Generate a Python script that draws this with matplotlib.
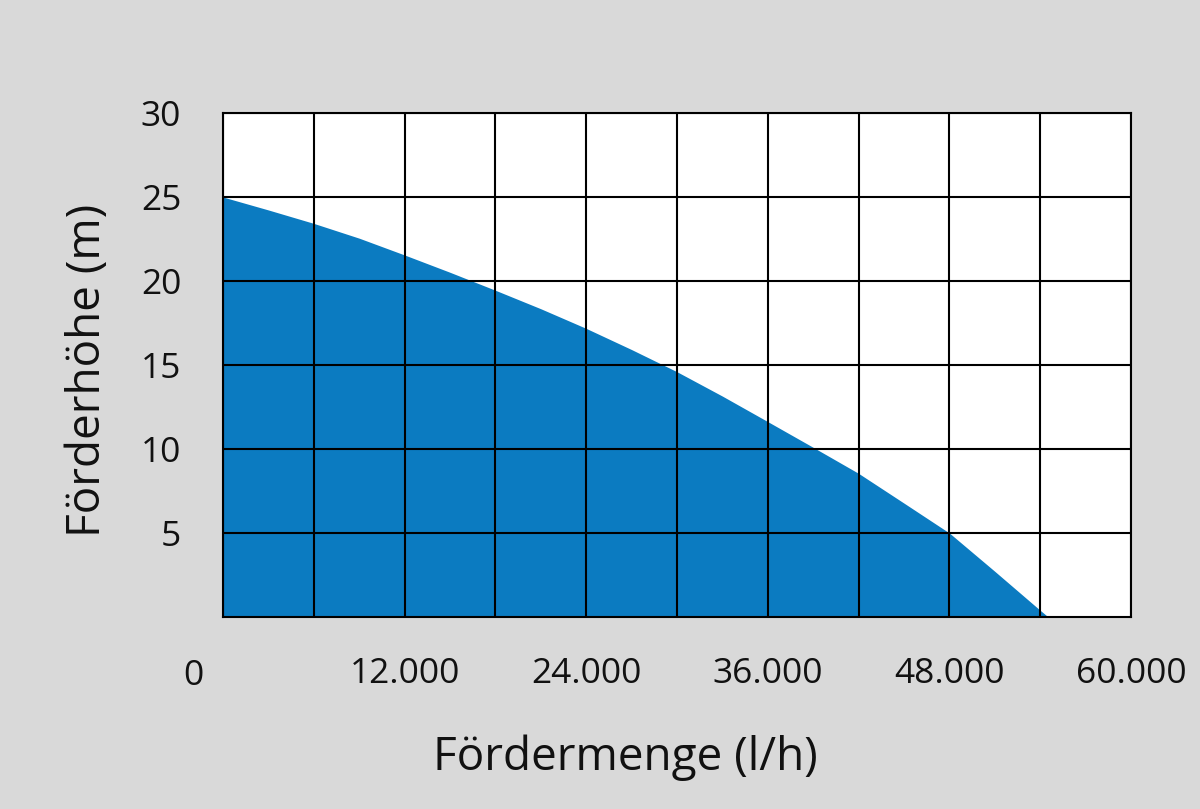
import matplotlib.pyplot as plt
from matplotlib.transforms import blended_transform_factory

# Kennlinie (Fördermenge in l/h, Förderhöhe in m)
flow = [0, 3000, 6000, 9000, 12000, 15000, 18000, 21000, 24000, 27000, 30000,
        33000, 36000, 39000, 42000, 45000, 48000, 51000, 54000, 54530]
head = [25, 24.23, 23.43, 22.55, 21.55, 20.52, 19.45, 18.35, 17.18, 15.92, 14.6,
        13.15, 11.63, 10.1, 8.55, 6.78, 5.0, 2.72, 0.4, 0]

x_ticks = [12000, 24000, 36000, 48000, 60000]
x_labels = ['12.000', '24.000', '36.000', '48.000', '60.000']
y_ticks = [5, 10, 15, 20, 25, 30]

plt.rcParams['font.family'] = ['Open Sans', 'DejaVu Sans']

bg = '#d9d9d9'
fig = plt.figure(figsize=(12, 8.09), dpi=100, facecolor=bg)
ax = fig.add_axes([0.1858, 0.2373, 0.7567, 0.6230])
ax.set_facecolor('white')

ax.fill_between(flow, head, 0, color='#0b7bc1', linewidth=0)

ax.set_xlim(0, 60000)
ax.set_ylim(0, 30)
grid_x = list(range(0, 60001, 6000))
ax.set_xticks(grid_x)
ax.set_xticklabels([x_labels[x_ticks.index(v)] if v in x_ticks else ''
                    for v in grid_x])
ax.set_yticks(y_ticks)
ax.tick_params(axis='both', length=0, labelsize=25.5, colors='#111111')
ax.tick_params(axis='x', pad=29)
ax.tick_params(axis='y', pad=30)
ax.grid(True, color='black', linewidth=1.5)
for s in ax.spines.values():
    s.set_color('black')
    s.set_linewidth(1.5)

# "0" sitzt links neben der Achse, auf Höhe der anderen Labels
trans = blended_transform_factory(ax.transData, ax.transAxes)
ax.text(-1980, -(659 - 617) / 504, '0', transform=trans, fontsize=25.5,
        ha='center', va='top', color='#111111')

fig.text(625 / 1200, 1 - 758 / 809, 'Fördermenge (l/h)', fontsize=33,
         ha='center', va='center', color='#111111')
fig.text(88 / 1200, 1 - 370 / 809, 'Förderhöhe (m)', fontsize=33, rotation=90,
         ha='center', va='center', color='#111111')

fig.savefig('out.png', dpi=100, facecolor=bg)
